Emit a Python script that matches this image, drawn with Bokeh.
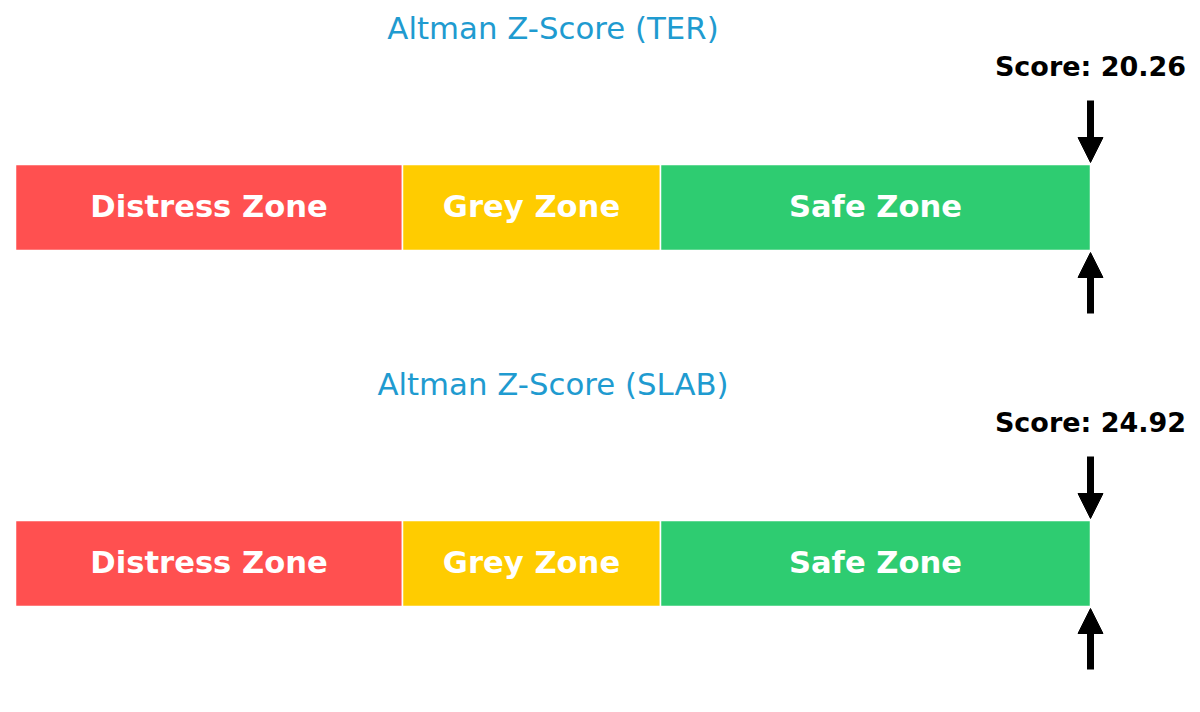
import numpy as np
from bokeh.plotting import figure
from bokeh.models import Range1d, ColumnDataSource, Arrow, NormalHead
from bokeh.core.properties import value
from bokeh.embed import file_html
from bokeh.resources import INLINE

# ---- data ----
tickers = ["TER", "SLAB"]
scores = [20.26, 24.92]
zone_names = ["Distress Zone", "Grey Zone", "Safe Zone"]
zone_edges = [0.0, 1.8, 3.0, 5.0]
zone_colors = ["#ff5050", "#ffcc00", "#2ecc71"]

# ---- layout (pixel-like y units, 0 at top) ----
W, H = 1192, 704
PX = 215.0  # pixels per z-unit
x0 = -15 / PX
x1 = (W - 15) / PX
panel_dy = 356
font = value("DejaVu Sans")

p = figure(width=W, height=H, output_backend="svg", toolbar_location=None,
           x_range=Range1d(x0, x1), y_range=Range1d(H, 0),
           min_border=0, min_border_left=0, min_border_right=0,
           min_border_top=0, min_border_bottom=0)
p.xaxis.visible = False
p.yaxis.visible = False
p.grid.visible = False
p.outline_line_color = None
p.background_fill_color = "white"
p.border_fill_color = "white"

xmax = zone_edges[-1]
for i, (tk, sc) in enumerate(zip(tickers, scores)):
    off = i * panel_dy
    bar_top, bar_bot = 164 + off, 250 + off
    src = ColumnDataSource(dict(
        left=zone_edges[:-1], right=zone_edges[1:],
        top=[bar_top] * 3, bottom=[bar_bot] * 3,
        color=zone_colors, name=zone_names,
        xc=[(a + b) / 2 for a, b in zip(zone_edges[:-1], zone_edges[1:])],
        yc=[(bar_top + bar_bot) / 2 - 1] * 3,
    ))
    p.quad(left="left", right="right", top="top", bottom="bottom",
           fill_color="color", line_color="white", line_width=1.5, source=src)
    p.text(x="xc", y="yc", text="name", source=src, text_color="white",
           text_font=font, text_font_style="bold", text_font_size="30.6px",
           text_align="center", text_baseline="middle")
    # title
    p.text(x=[(zone_edges[0] + xmax) / 2], y=[27 + off],
           text=[f"Altman Z-Score ({tk})"], text_color="#1f9bd0",
           text_font=font, text_font_size="30.8px",
           text_align="center", text_baseline="middle")
    ax = min(sc, xmax)
    p.text(x=[ax], y=[66 + off], text=[f"Score: {sc:.2f}"], text_color="black",
           text_font=font, text_font_style="bold", text_font_size="27px",
           text_align="center", text_baseline="middle")
    # arrows
    p.add_layout(Arrow(x_start=ax, y_start=100 + off, x_end=ax, y_end=bar_top - 2,
                       line_width=7, line_color="black",
                       end=NormalHead(size=25, fill_color="black", line_color="black", line_width=1)))
    p.add_layout(Arrow(x_start=ax, y_start=313 + off, x_end=ax, y_end=bar_bot + 2,
                       line_width=7, line_color="black",
                       end=NormalHead(size=25, fill_color="black", line_color="black", line_width=1)))

open("out.html", "w").write(file_html(p, INLINE))
